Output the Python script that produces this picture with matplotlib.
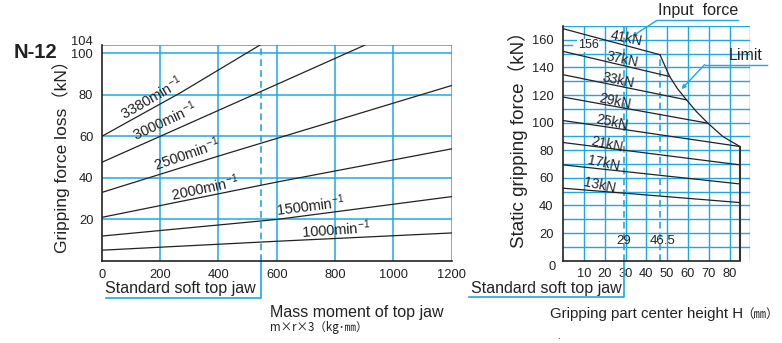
import matplotlib
matplotlib.use('Agg')
import matplotlib.pyplot as plt

plt.rcParams['font.family'] = ['Liberation Sans', 'Noto Sans CJK JP', 'DejaVu Sans']
plt.rcParams['mathtext.fontset'] = 'custom'
plt.rcParams['mathtext.rm'] = 'Liberation Sans'
plt.rcParams['mathtext.it'] = 'Liberation Sans:italic'

BLUE = '#1FA8E0'
INK = '#222222'

# left chart: gripping force loss vs mass moment of top jaw
rpm_labels = ['3380', '3000', '2500', '2000', '1500', '1000']
loss_x = [
    [0, 270, 543],
    [0, 200, 600, 903],
    [0, 400, 600, 1200],
    [0, 600, 1200],
    [0, 600, 1200],
    [0, 600, 1200],
]
loss_y = [
    [60, 81, 104],
    [47.5, 60, 85, 104],
    [33, 50.5, 59, 84.5],
    [21, 38, 54],
    [12, 20, 31],
    [5.2, 9.5, 13.5],
]
std_jaw_mass = 545

# right chart: static gripping force vs gripping part height
force_labels = ['41kN', '37kN', '33kN', '29kN', '25kN', '21kN', '17kN', '13kN']
force_start = [168, 151.6, 134.7, 118.5, 101.5, 85.6, 69.4, 52.5]
force_end_h = [46.5, 51.2, 59.3, 69.6, 85, 85, 85, 85]
force_end = [149.2, 133.4, 116.5, 99.6, 82.7, 69.4, 55.6, 42.1]
limit_h = [46.5, 51.2, 55, 59.3, 64, 69.6, 76.8, 85]
limit_f = [149.2, 133.4, 124.5, 116.5, 108.1, 99.6, 89.9, 82.7]
std_jaw_h = 29
kink_h = 46.5
max_h = 85

fig = plt.figure(figsize=(7.82, 3.43), dpi=100)

# ---------------- left
ax = fig.add_axes([101.7 / 782, 82 / 343, 350 / 782, 216 / 343])
ax.set_xlim(0, 1200)
ax.set_ylim(0, 104)
for x in range(200, 1201, 200):
    ax.axvline(x, color=BLUE, lw=1.1, zorder=1)
for y in [20, 40, 60, 80, 100, 104]:
    ax.axhline(y, color=BLUE, lw=1.1, zorder=1)
ax.axvline(std_jaw_mass, color=BLUE, lw=1.2, ls=(0, (4, 2.5)), zorder=1)
for xs, ys in zip(loss_x, loss_y):
    ax.plot(xs, ys, color=INK, lw=0.9, zorder=3)

lbl_pos = [(172, 78.5, 30), (217, 67.5, 25), (290, 51.5, 19), (355, 35.3, 12),
           (714, 26.8, 7), (804, 15.3, 4)]
for lab, (lx, ly, rot) in zip(rpm_labels, lbl_pos):
    ax.text(lx, ly, lab + 'min$^{-1}$', fontsize=10.5, rotation=rot,
            ha='center', va='center', color=INK, zorder=4,
            rotation_mode='anchor')

ax.set_xticks(range(0, 1201, 200))
ax.set_yticks([20, 40, 60, 80])
ax.tick_params(length=0, labelsize=9.3, colors=INK)
ax.tick_params(axis='x', pad=6)
ax.tick_params(axis='y', pad=6)
ytr = ax.get_yaxis_transform()
ax.text(-0.025, 105.3, '104', fontsize=9.3, ha='right', va='center',
        color=INK, transform=ytr)
ax.text(-0.025, 99.2, '100', fontsize=9.3, ha='right', va='center',
        color=INK, transform=ytr)
for s in ['top', 'right']:
    ax.spines[s].set_visible(False)
for s in ['left', 'bottom']:
    ax.spines[s].set_linewidth(1.2)
    ax.spines[s].set_color(INK)

ax.plot([std_jaw_mass, std_jaw_mass, 14], [0, -17.7, -17.7], color=BLUE,
        lw=1.2, clip_on=False)
ax.text(11, -13.2, 'Standard soft top jaw', fontsize=11.5, va='center',
        ha='left', color=INK)

fig.text(35 / 782, 1 - 52 / 343, 'N-12', fontsize=14.5, fontweight='bold',
         ha='center', va='center', color=INK)
fig.text(61 / 782, 1 - 152 / 343, 'Gripping force loss（kN）', fontsize=12.5,
         rotation=90, ha='center', va='center', color=INK)
fig.text(270 / 782, 1 - 312 / 343, 'Mass moment of top jaw', fontsize=11.5,
         ha='left', va='center', color=INK)
fig.text(270 / 782, 1 - 328 / 343, 'm×r×3（kg･㎜）', fontsize=8.3,
         ha='left', va='center', color=INK,
         family=['Noto Sans CJK JP', 'Liberation Sans'])

# ---------------- right
ax2 = fig.add_axes([563.3 / 782, 82.3 / 343, 187 / 782, 234.7 / 343])
ax2.set_xlim(0, 90)
ax2.set_ylim(0, 170)
for x in range(10, 91, 10):
    ax2.axvline(x, color=BLUE, lw=1.0, zorder=1)
for y in range(10, 171, 10):
    ax2.axhline(y, color=BLUE, lw=1.0, zorder=1)
ax2.axvline(std_jaw_h, color=BLUE, lw=1.2, ls=(0, (4, 2.5)), zorder=1)
ax2.plot([kink_h, kink_h], [0, limit_f[0]], color=BLUE, lw=1.2,
         ls=(0, (4, 2.5)), zorder=1)
ax2.plot([0, 4], [156, 156], color=BLUE, lw=1.0, zorder=1)
ax2.text(12, 156, '156', fontsize=9, ha='center', va='center',
         color=INK, zorder=2,
         bbox=dict(facecolor='white', edgecolor='none', pad=0.5))

for s0, h1, s1 in zip(force_start, force_end_h, force_end):
    ax2.plot([0, h1], [s0, s1], color=INK, lw=0.9, zorder=3)
ax2.plot(limit_h, limit_f, color=INK, lw=0.9, zorder=3)
ax2.plot([max_h, max_h], [0, limit_f[-1]], color='#333333', lw=1.5, zorder=3)

flbl = [(30.5, 161), (28.3, 145.8), (26.3, 130.5), (24.8, 115.3),
        (23.4, 100), (21.0, 84), (19.6, 70.2), (17.7, 54.3)]
for lab, (lx, ly) in zip(force_labels, flbl):
    ax2.text(lx, ly, lab, fontsize=10, rotation=-12, ha='center', va='center',
             color=INK, zorder=4, rotation_mode='anchor')

ax2.text(std_jaw_h, 14, '29', fontsize=9.5, ha='center', va='center',
         color=INK, zorder=4)
ax2.text(kink_h + 1.5, 14, '46.5', fontsize=9.5, ha='center', va='center',
         color=INK, zorder=4)

ax2.set_xticks(range(10, 81, 10))
ax2.set_yticks(range(20, 161, 20))
ax2.tick_params(length=0, labelsize=9.3, colors=INK)
ax2.tick_params(axis='x', pad=5)
ax2.tick_params(axis='y', pad=7)
for s in ['top', 'right']:
    ax2.spines[s].set_visible(False)
for s in ['left', 'bottom']:
    ax2.spines[s].set_linewidth(1.2)
    ax2.spines[s].set_color(INK)
ax2.spines['bottom'].set_bounds(0, max_h)
ax2.text(-5.5, -4.5, '0', fontsize=9.3, ha='center', va='center',
         color=INK, clip_on=False)

# annotations
ax2.plot([std_jaw_h, std_jaw_h, -45.5], [0, -26, -26], color=BLUE, lw=1.2,
         clip_on=False)
ax2.text(-44.6, -19.8, 'Standard soft top jaw', fontsize=11.5, va='center',
         ha='left', color=INK)
ax2.plot([45, 84], [174, 174], color=BLUE, lw=1.0, clip_on=False)
ax2.annotate('', xy=(33, 162.4), xytext=(45, 174),
             arrowprops=dict(arrowstyle='-|>', color=BLUE, lw=1.0,
                             mutation_scale=6, shrinkA=0, shrinkB=0),
             annotation_clip=False)
ax2.text(64.7, 181.2, 'Input  force', fontsize=11.5, ha='center',
         va='center', color=INK, clip_on=False)
ax2.plot([68, 98], [142, 142], color=BLUE, lw=1.0, clip_on=False)
ax2.annotate('', xy=(56.9, 124.3), xytext=(68, 142),
             arrowprops=dict(arrowstyle='-|>', color=BLUE, lw=1.0,
                             mutation_scale=6, shrinkA=0, shrinkB=0),
             annotation_clip=False)
ax2.text(87.7, 148.5, 'Limit', fontsize=11.5, ha='center', va='center',
         color=INK, clip_on=False)

fig.text(518 / 782, 1 - 135 / 343, 'Static gripping force（kN）', fontsize=13.5,
         rotation=90, ha='center', va='center', color=INK)
fig.text(550 / 782, 1 - 314 / 343, 'Gripping part center height H',
         fontsize=10.8, ha='left', va='center', color=INK)
fig.text(741 / 782, 1 - 314 / 343, '（㎜）', fontsize=9, ha='left',
         va='center', color=INK, family=['Noto Sans CJK JP'])
fig.text(558 / 782, 1 - 336 / 343, '.', fontsize=7, ha='center',
         va='center', color=INK)

fig.savefig('out.png', dpi=100)
